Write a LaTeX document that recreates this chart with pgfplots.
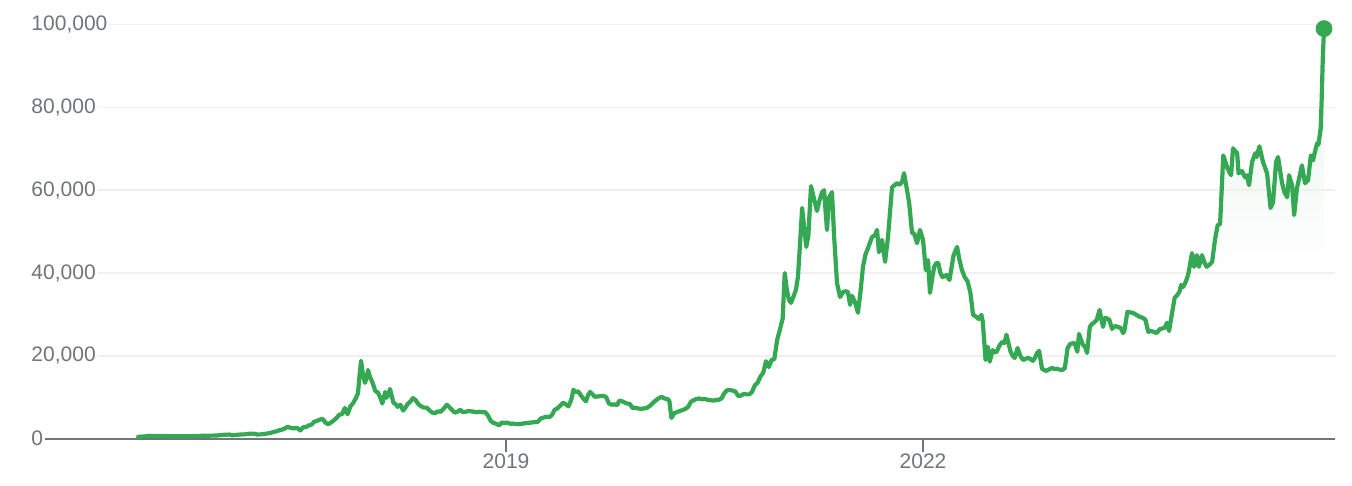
\documentclass[border=0pt]{standalone}
\usepackage{fontspec}
\setmainfont{Liberation Sans}
\usepackage{pgfplots}
\usepackage{pgfplotstable}
\pgfplotsset{compat=1.18}
\definecolor{gline}{HTML}{34A853}
\definecolor{gfill}{HTML}{E6F4EA}
\definecolor{axisgray}{HTML}{70757A}
\definecolor{labelgray}{HTML}{70757A}
\definecolor{gridgray}{HTML}{F0F0F0}
\pgfdeclareverticalshading{gfade}{100bp}{color(0bp)=(white); color(45bp)=(white); color(75bp)=(gfill); color(100bp)=(gfill)}
\pgfplotstableread{
year price
2016.353 450
2016.37 455
2016.39 530
2016.41 580
2016.43 690
2016.45 680
2016.47 660
2016.50 650
2016.54 660
2016.58 580
2016.62 575
2016.66 605
2016.70 600
2016.74 615
2016.78 640
2016.81 700
2016.84 710
2016.88 740
2016.92 760
2016.95 890
2016.98 960
2017.01 1000
2017.03 820
2017.06 920
2017.09 1010
2017.12 1050
2017.15 1190
2017.18 1230
2017.21 1020
2017.24 1050
2017.27 1200
2017.30 1350
2017.32 1550
2017.35 1800
2017.37 2050
2017.39 2200
2017.41 2500
2017.43 2900
2017.45 2600
2017.47 2500
2017.50 2550
2017.52 2000
2017.54 2750
2017.56 2800
2017.58 3200
2017.60 3400
2017.62 4100
2017.64 4300
2017.66 4600
2017.68 4800
2017.70 3900
2017.72 3500
2017.74 3900
2017.76 4400
2017.78 5000
2017.80 5800
2017.82 5900
2017.84 7400
2017.86 5900
2017.88 7800
2017.90 8600
2017.92 9800
2017.935 11000
2017.945 15000
2017.957 18800
2017.97 15500
2017.985 13500
2017.995 14500
2018.007 16600
2018.02 15000
2018.04 13500
2018.06 11500
2018.08 11100
2018.10 9500
2018.11 8500
2018.13 11300
2018.14 9900
2018.155 10800
2018.165 12000
2018.18 10000
2018.19 8700
2018.21 8200
2018.22 7700
2018.24 8200
2018.26 6800
2018.28 7700
2018.29 8300
2018.31 8900
2018.33 9800
2018.35 9300
2018.37 8300
2018.39 7800
2018.41 7500
2018.43 7500
2018.45 6800
2018.47 6300
2018.49 6200
2018.51 6600
2018.53 6500
2018.555 7400
2018.575 8200
2018.59 7700
2018.61 7000
2018.63 6300
2018.65 6500
2018.67 7000
2018.69 6400
2018.71 6500
2018.73 6700
2018.75 6600
2018.77 6500
2018.79 6400
2018.81 6500
2018.83 6400
2018.85 6400
2018.87 5600
2018.89 4300
2018.91 3800
2018.93 3600
2018.95 3200
2018.97 3900
2018.99 3800
2019.01 3900
2019.03 3600
2019.05 3650
2019.07 3550
2019.09 3500
2019.11 3600
2019.13 3700
2019.15 3800
2019.17 3850
2019.19 3950
2019.21 4000
2019.23 4100
2019.25 4900
2019.27 5100
2019.29 5300
2019.31 5200
2019.33 5700
2019.35 7000
2019.37 7300
2019.39 8000
2019.41 8700
2019.43 8300
2019.45 7800
2019.47 9500
2019.485 11800
2019.50 11300
2019.52 11400
2019.54 10400
2019.56 9500
2019.575 9000
2019.59 10500
2019.605 11300
2019.62 10800
2019.64 10100
2019.66 10200
2019.68 10300
2019.70 10300
2019.72 10100
2019.74 8500
2019.76 8200
2019.78 8300
2019.80 8100
2019.815 9200
2019.83 9100
2019.85 8800
2019.87 8500
2019.89 8400
2019.91 7400
2019.93 7500
2019.95 7300
2019.97 7200
2019.99 7300
2020.01 7400
2020.03 7800
2020.05 8400
2020.065 8900
2020.08 9300
2020.10 9800
2020.12 10100
2020.14 9700
2020.16 9600
2020.175 9100
2020.19 5000
2020.21 6200
2020.23 6400
2020.25 6700
2020.27 6900
2020.29 7200
2020.31 7700
2020.33 8900
2020.35 9300
2020.37 9600
2020.39 9700
2020.41 9500
2020.43 9600
2020.45 9400
2020.47 9300
2020.49 9200
2020.51 9300
2020.53 9400
2020.55 9700
2020.57 11000
2020.59 11700
2020.61 11800
2020.63 11600
2020.65 11400
2020.67 10300
2020.69 10400
2020.71 10800
2020.73 10700
2020.75 10700
2020.77 11300
2020.79 12900
2020.81 13500
2020.83 15000
2020.85 15900
2020.87 18700
2020.89 17300
2020.91 19000
2020.93 19200
2020.95 23800
2020.97 26300
2020.99 29000
2021.005 40000
2021.02 36000
2021.035 33500
2021.05 32800
2021.07 34500
2021.085 35900
2021.10 39000
2021.115 47000
2021.13 55700
2021.145 51000
2021.16 46300
2021.175 49000
2021.194 61000
2021.215 58000
2021.237 55000
2021.255 57500
2021.273 59500
2021.288 60000
2021.309 50400
2021.324 58300
2021.345 59500
2021.36 49000
2021.381 37600
2021.403 34200
2021.424 35400
2021.445 35600
2021.46 35400
2021.475 32300
2021.489 34500
2021.51 33000
2021.532 30400
2021.55 35500
2021.568 41500
2021.586 44500
2021.604 46000
2021.62 47500
2021.633 48700
2021.655 49200
2021.669 50400
2021.683 45000
2021.705 48000
2021.727 42700
2021.748 48700
2021.762 54500
2021.777 60700
2021.795 61200
2021.813 61700
2021.83 61300
2021.849 62000
2021.863 64100
2021.885 60000
2021.90 57000
2021.921 49600
2021.935 49600
2021.957 47200
2021.978 50400
2022.000 48000
2022.02 40700
2022.036 43100
2022.05 35200
2022.065 38500
2022.08 41500
2022.095 42400
2022.11 42400
2022.125 40000
2022.14 39000
2022.17 39500
2022.19 38300
2022.22 44300
2022.245 46300
2022.26 43500
2022.28 40700
2022.30 39000
2022.32 38000
2022.34 35400
2022.36 29900
2022.38 29500
2022.40 28900
2022.42 29900
2022.43 28200
2022.45 19000
2022.465 22200
2022.48 18600
2022.50 21400
2022.515 20800
2022.53 21000
2022.55 22500
2022.57 23400
2022.585 23100
2022.60 25100
2022.615 23000
2022.63 21000
2022.645 20000
2022.66 19500
2022.68 21900
2022.70 20000
2022.72 19000
2022.74 19300
2022.755 19500
2022.77 19300
2022.79 18800
2022.805 19500
2022.82 20700
2022.835 21200
2022.856 16900
2022.875 16500
2022.89 16400
2022.91 16800
2022.93 17100
2022.945 16800
2022.96 16900
2022.98 16700
2023.00 16600
2023.02 17000
2023.04 21900
2023.06 22900
2023.075 23000
2023.09 23100
2023.11 21000
2023.122 25300
2023.135 24000
2023.15 22700
2023.165 22200
2023.18 20700
2023.20 27000
2023.215 27700
2023.23 28000
2023.25 28700
2023.27 31100
2023.285 28500
2023.295 27000
2023.31 29200
2023.325 29000
2023.34 28700
2023.36 26500
2023.38 27200
2023.40 27000
2023.42 26800
2023.44 25500
2023.45 26300
2023.47 30600
2023.49 30500
2023.51 30400
2023.53 30000
2023.56 29400
2023.58 29200
2023.60 28700
2023.62 25800
2023.64 26000
2023.66 25800
2023.68 25500
2023.705 26500
2023.72 26600
2023.74 26800
2023.755 28000
2023.77 26000
2023.79 30000
2023.81 34000
2023.83 34700
2023.845 35500
2023.856 37100
2023.87 36600
2023.885 37500
2023.90 38800
2023.91 40000
2023.935 44800
2023.95 41500
2023.97 44300
2023.985 41500
2024.007 44300
2024.025 42500
2024.04 41500
2024.06 42000
2024.08 42700
2024.10 48000
2024.12 51600
2024.137 51800
2024.16 68400
2024.19 65300
2024.216 63600
2024.23 70100
2024.26 68900
2024.27 64100
2024.295 64600
2024.317 63100
2024.33 63600
2024.345 61200
2024.367 66800
2024.39 68900
2024.40 68000
2024.42 70600
2024.446 66800
2024.475 64100
2024.50 55700
2024.518 57100
2024.54 66800
2024.554 68000
2024.57 64500
2024.583 61700
2024.60 59500
2024.62 58300
2024.633 63600
2024.655 61200
2024.67 54000
2024.69 60500
2024.71 63500
2024.726 66000
2024.748 61700
2024.77 62400
2024.79 68400
2024.806 67200
2024.813 68400
2024.835 71300
2024.845 71000
2024.861 75000
2024.868 82000
2024.876 92000
2024.885 99000
}\btc

\begin{document}
\begin{tikzpicture}
\begin{axis}[
  set layers,
  at={(14.5pt,23.65pt)}, anchor=south west,
  scale only axis, width=653pt, height=207.1pt,
  xmin=2015.568, xmax=2024.964, ymin=0, ymax=100000,
  axis x line*=bottom, axis y line*=left,
  x axis line style={-, draw=axisgray, line width=1pt},
  y axis line style={draw=none},
  xtick={2019,2022}, xticklabels={2019,2022},
  ytick={0,20000,40000,60000,80000,100000},
  yticklabels={0,{20,000},{40,000},{60,000},{80,000},{100,000}},
  scaled y ticks=false, scaled x ticks=false,
  tick align=outside, major tick length=6.5pt,
  xtick style={draw=axisgray, line width=1pt},
  ytick style={draw=none},
  ymajorgrids, grid style={draw=gridgray, line width=0.8pt},
  tick label style={font=\fontsize{10.5}{12}\selectfont, text=labelgray},
  yticklabel style={anchor=west, xshift=6.5pt, fill=white, inner xsep=1pt, inner ysep=1pt},
  xticklabel style={yshift=2.5pt},
  clip=false,
]
\addplot[draw=none, shade, shading=gfade, on layer=axis background] table[x=year,y=price]{\btc} \closedcycle;
\addplot[gline, line width=2.1pt, line join=round, line cap=round] table[x=year,y=price]{\btc};
\addplot[only marks, mark=*, mark size=4pt, gline] coordinates {(2024.885,99000)};
\end{axis}
\path (0,0) rectangle (676pt,243pt);
\end{tikzpicture}
\end{document}
